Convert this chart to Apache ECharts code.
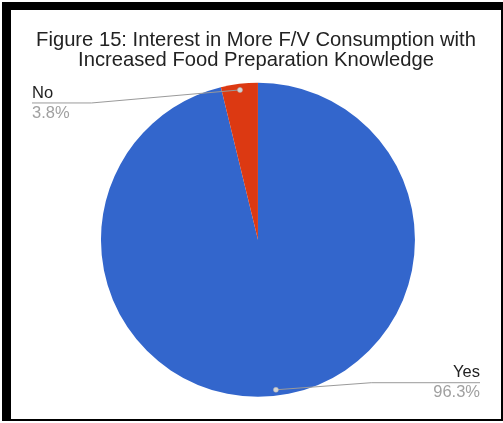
<!DOCTYPE html>
<html>
<head>
<meta charset="utf-8">
<script src="https://cdn.jsdelivr.net/npm/echarts@6/dist/echarts.min.js"></script>
<style>
  html, body { margin: 0; padding: 0; background: #ffffff; }
  #chart { width: 503px; height: 423px; }
</style>
</head>
<body>
<div id="chart"></div>
<script>
// Survey answers and their shares (percent)
const categories = ['Yes', 'No'];
const shares = [96.3, 3.8];
const sliceColors = ['#3366cc', '#dc3912'];
const titleLines = [
  'Figure 15: Interest in More F/V Consumption with',
  'Increased Food Preparation Knowledge'
];

const chart = echarts.init(document.getElementById('chart'), null, { renderer: 'canvas' });

// Vertical offset of each label's text from its default anchor (px),
// realised through asymmetric label padding.
const labelShift = [-14, 20];
function shiftPadding(s) {
  return s >= 0 ? [2 * s, 0, 0, 0] : [0, 0, -2 * s, 0];
}

// Point just inside the outer arc, at the middle angle of a slice,
// taken from the pie layout that ECharts computed.
const INSET = 6;
function anchorPoint(dataIndex) {
  const data = chart.getModel().getSeriesByIndex(0).getData();
  const lay = data.getItemLayout(dataIndex);
  const mid = (lay.startAngle + lay.endAngle) / 2;
  const rr = lay.r - INSET;
  return [lay.cx + rr * Math.cos(mid), lay.cy + rr * Math.sin(mid)];
}

// Label text boxes as laid out by ECharts, kept for the leader lines
const labelRects = [];
function recordLabel(p) {
  labelRects[p.dataIndex] = p.labelRect;
  return {};
}

// Leader line: from inside the slice to the label, then under the category name
function leaderLine(i) {
  const start = anchorPoint(i);
  const r = labelRects[i];
  const midY = r.y + r.height / 2;
  const onLeft = r.x + r.width / 2 < start[0];
  const outer = onLeft ? r.x : r.x + r.width;
  const bend = onLeft ? outer + r.width + 22 : outer - r.width - 62;
  return [start, [bend, midY], [outer, midY]];
}

const borders = [
  { type: 'rect', shape: { x: 2, y: 2, width: 9, height: 419 }, style: { fill: '#000000' }, z: 100 },
  { type: 'rect', shape: { x: 2, y: 2, width: 501, height: 8 }, style: { fill: '#000000' }, z: 100 },
  { type: 'rect', shape: { x: 501, y: 2, width: 2, height: 419 }, style: { fill: '#000000' }, z: 100 },
  { type: 'rect', shape: { x: 2, y: 419, width: 501, height: 2 }, style: { fill: '#000000' }, z: 100 }
];

const option = {
  backgroundColor: '#ffffff',
  animation: false,
  title: {
    text: titleLines.join('\n'),
    left: 256,
    top: 30,
    padding: 0,
    textAlign: 'center',
    textStyle: {
      fontFamily: 'Liberation Sans, Arial, sans-serif',
      fontSize: 20.2,
      fontWeight: 'normal',
      color: '#222222',
      lineHeight: 20
    }
  },
  series: [{
    type: 'pie',
    left: 11,
    right: 2,
    top: 0,
    bottom: 0,
    center: ['50.4%', '56.7%'],
    radius: 157,
    startAngle: 90,
    clockwise: true,
    avoidLabelOverlap: false,
    emphasis: { disabled: true },
    itemStyle: { borderWidth: 0 },
    data: categories.map((c, i) => ({
      name: c,
      value: shares[i],
      itemStyle: { color: sliceColors[i] },
      label: { padding: shiftPadding(labelShift[i]) }
    })),
    label: {
      show: true,
      position: 'outside',
      alignTo: 'edge',
      edgeDistance: 21,
      formatter: '{n|{b}}\n{v|{c}%}',
      rich: {
        n: { fontFamily: 'Liberation Sans, Arial, sans-serif', fontSize: 16.5, color: '#222222', lineHeight: 20 },
        v: { fontFamily: 'Liberation Sans, Arial, sans-serif', fontSize: 16.5, color: '#a0a0a0', lineHeight: 20 }
      }
    },
    labelLine: { show: false, length: 1, length2: 0 },
    labelLayout: recordLabel
  }],
  graphic: borders
};

chart.setOption(option);

// Leader lines and the small dots where they begin
const leaders = [];
categories.forEach((c, i) => {
  const pts = leaderLine(i);
  leaders.push({
    type: 'polyline',
    shape: { points: pts },
    style: { stroke: '#9a9a9a', lineWidth: 1, fill: null },
    z: 40
  });
  leaders.push({
    type: 'circle',
    shape: { cx: pts[0][0], cy: pts[0][1], r: 2.5 },
    style: { fill: '#d4d4d4', stroke: '#b0b0b0', lineWidth: 0.5 },
    z: 50
  });
});
chart.setOption({ graphic: borders.concat(leaders) });
</script>
</body>
</html>
